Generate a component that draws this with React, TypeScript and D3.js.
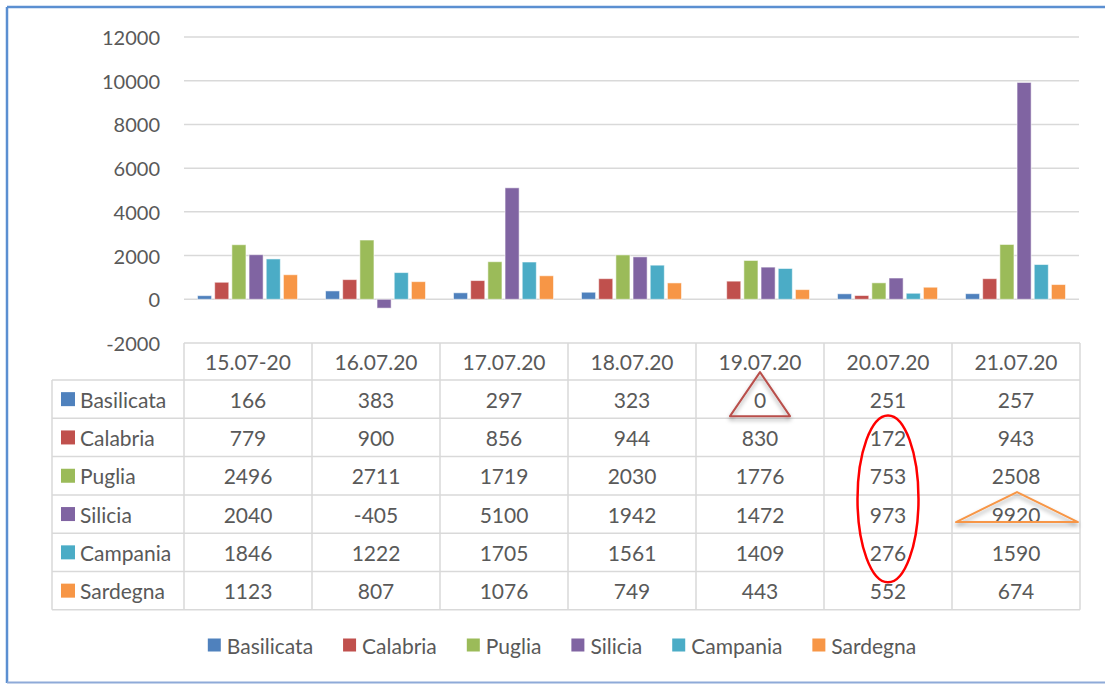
import React from "react";
import * as d3 from "d3";

const dates = ["15.07-20", "16.07.20", "17.07.20", "18.07.20", "19.07.20", "20.07.20", "21.07.20"];
const regions = ["Basilicata", "Calabria", "Puglia", "Silicia", "Campania", "Sardegna"];
const colors = ["#4f81bd", "#c0504d", "#9bbb59", "#8064a2", "#4bacc6", "#f79646"];
const basilicata = [166, 383, 297, 323, 0, 251, 257];
const calabria = [779, 900, 856, 944, 830, 172, 943];
const puglia = [2496, 2711, 1719, 2030, 1776, 753, 2508];
const silicia = [2040, -405, 5100, 1942, 1472, 973, 9920];
const campania = [1846, 1222, 1705, 1561, 1409, 276, 1590];
const sardegna = [1123, 807, 1076, 749, 443, 552, 674];
const yTicks = [-2000, 0, 2000, 4000, 6000, 8000, 10000, 12000];

const series = [basilicata, calabria, puglia, silicia, campania, sardegna];

const W = 1105;
const H = 684;
const FONT = "Lato, 'Open Sans', sans-serif";
const TXT = "#595959";
const GRID = "#d9d9d9";

const plotL = 184;
const plotR = 1080;
const labelL = 52;
const tableTop = 343;
const headerH = 37;
const rowH = 38.3;
const legendFont = 21;

function measure(text: string, size: number): number {
  if (typeof document === "undefined") return text.length * size * 0.5;
  const c = document.createElement("canvas");
  const ctx = c.getContext("2d");
  if (!ctx) return text.length * size * 0.5;
  ctx.font = `${size}px Lato`;
  return ctx.measureText(text).width;
}

export default function App() {
  const y = d3.scaleLinear().domain([-2000, 12000]).range([343, 37]);
  const x0 = d3.scaleBand<string>().domain(dates).range([plotL, plotR]).paddingInner(0).paddingOuter(0);
  const x1 = d3.scaleBand<string>().domain(regions).range([13.5, 113.5]).paddingInner(0.18);

  const rowsTop = tableTop + headerH;
  const rowCenter = (i: number) => rowsTop + rowH * (i + 0.5);
  const colCenter = (j: number) => (x0(dates[j]) as number) + x0.bandwidth() / 2;

  // legend layout (centered)
  const legendY = 645;
  const sq = 13;
  const sqGap = 6;
  const itemGap = 30;
  const widths = regions.map((r) => measure(r, legendFont));
  const total = widths.reduce((a, b) => a + b, 0) + regions.length * (sq + sqGap) + (regions.length - 1) * itemGap;
  let lx = 562 - total / 2;
  const legendItems = regions.map((r, i) => {
    const item = { r, i, x: lx };
    lx += sq + sqGap + widths[i] + itemGap;
    return item;
  });

  // annotations positions derived from cell geometry
  const triCx = colCenter(4);
  const triCy = rowCenter(0);
  const ellCx = colCenter(5);
  const ellCy = (rowCenter(1) + rowCenter(4)) / 2 + 4;
  const ellRy = (rowCenter(4) - rowCenter(1)) / 2 + 26;
  const oCx = colCenter(6);
  const oCy = rowCenter(3);

  return (
    <svg
      width={W}
      height={H}
      style={{ position: "absolute", left: 0, top: 0, display: "block", background: "#fff" }}
      fontFamily={FONT}
    >
      <defs>
        <filter id="shadow" x="-20%" y="-20%" width="140%" height="160%">
          <feDropShadow dx="0" dy="3" stdDeviation="2" floodColor="#000" floodOpacity="0.35" />
        </filter>
      </defs>
      <rect x={0} y={0} width={W} height={H} fill="#fff" />
      {/* outer frame */}
      <line x1={7} y1={7} x2={W} y2={7} stroke="#5b8fd1" strokeWidth={2.5} />
      <line x1={7} y1={7} x2={7} y2={683} stroke="#5b8fd1" strokeWidth={2.5} />
      <line x1={7} y1={682.5} x2={W} y2={682.5} stroke="#8eaad8" strokeWidth={2} />

      {/* gridlines */}
      {yTicks.filter((t) => t > -2000).map((t) => (
        <line key={t} x1={plotL} x2={plotR - 1} y1={y(t)} y2={y(t)} stroke={GRID} strokeWidth={1.5} />
      ))}
      {/* y tick labels */}
      {yTicks.map((t) => (
        <text key={"l" + t} x={160} y={y(t)} textAnchor="end" dominantBaseline="central" fontSize={20} fill={TXT}>
          {t}
        </text>
      ))}

      {/* bars */}
      {dates.map((d, j) => (
        <g key={d} transform={`translate(${x0(d)},0)`}>
          {regions.map((r, i) => {
            const v = series[i][j];
            if (v === 0) return null;
            const y0 = y(0);
            const yv = y(v);
            return (
              <rect
                key={r}
                x={x1(r)}
                width={x1.bandwidth()}
                y={Math.min(y0, yv)}
                height={Math.abs(y0 - yv)}
                fill={colors[i]}
                stroke="#ffffff"
                strokeOpacity={0.55}
                strokeWidth={1}
              />
            );
          })}
        </g>
      ))}

      {/* data table grid */}
      <g stroke={GRID} strokeWidth={1.5}>
        <line x1={plotL} x2={plotR} y1={tableTop} y2={tableTop} />
        {d3.range(regions.length + 1).map((i) => (
          <line key={"h" + i} x1={labelL} x2={plotR} y1={rowsTop + rowH * i} y2={rowsTop + rowH * i} />
        ))}
        <line x1={labelL} x2={labelL} y1={rowsTop} y2={rowsTop + rowH * regions.length} />
        {d3.range(dates.length + 1).map((k) => {
          const xx = plotL + x0.step() * k;
          return <line key={"v" + k} x1={xx} x2={xx} y1={tableTop} y2={rowsTop + rowH * regions.length} />;
        })}
      </g>
      {/* header */}
      {dates.map((d, j) => (
        <text key={"hd" + d} x={colCenter(j)} y={tableTop + headerH / 2} textAnchor="middle" dominantBaseline="central" fontSize={21} fill={TXT}>
          {d}
        </text>
      ))}
      {/* rows */}
      {regions.map((r, i) => (
        <g key={"row" + r}>
          <rect x={61} y={rowCenter(i) - 7} width={14} height={14} fill={colors[i]} />
          <text x={80} y={rowCenter(i)} dominantBaseline="central" fontSize={21} fill={TXT}>
            {r}
          </text>
          {dates.map((d, j) => (
            <text key={d} x={colCenter(j)} y={rowCenter(i)} textAnchor="middle" dominantBaseline="central" fontSize={21} fill={TXT}>
              {series[i][j]}
            </text>
          ))}
        </g>
      ))}

      {/* annotations */}
      <polygon
        points={`${triCx},${triCy - 27} ${triCx - 30},${triCy + 17} ${triCx + 30},${triCy + 17}`}
        fill="none"
        stroke="#b9504c"
        strokeWidth={2}
        strokeLinejoin="round"
        filter="url(#shadow)"
      />
      <ellipse cx={ellCx} cy={ellCy} rx={30.5} ry={ellRy} fill="none" stroke="#ff0000" strokeWidth={2.5} />
      <polygon
        points={`${oCx + 1},${oCy - 22} ${oCx - 60},${oCy + 8} ${oCx + 62},${oCy + 8}`}
        fill="none"
        stroke="#f79646"
        strokeWidth={2}
        strokeLinejoin="round"
        filter="url(#shadow)"
      />

      {/* legend */}
      {legendItems.map((it) => (
        <g key={"lg" + it.r}>
          <rect x={it.x} y={legendY - sq / 2} width={sq} height={sq} fill={colors[it.i]} />
          <text x={it.x + sq + sqGap} y={legendY} dominantBaseline="central" fontSize={legendFont} fill={TXT}>
            {it.r}
          </text>
        </g>
      ))}
    </svg>
  );
}
